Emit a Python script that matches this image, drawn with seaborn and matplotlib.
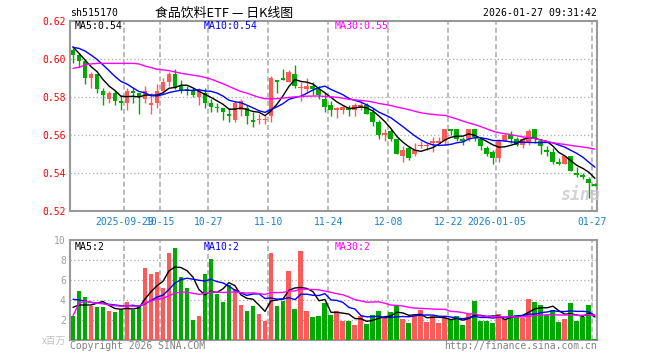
import matplotlib
matplotlib.use('Agg')
import matplotlib.pyplot as plt
import seaborn as sns
import numpy as np
import pandas as pd

code = 'sh515170'
title = '食品饮料ETF — 日K线图'
stamp = '2026-01-27 09:31:42'

# daily candles, 2025-09-16 .. 2026-01-27
opens = [0.605, 0.602, 0.599, 0.590, 0.592, 0.583, 0.579, 0.582, 0.578, 0.577,
         0.583, 0.582, 0.579, 0.576, 0.577, 0.583, 0.588, 0.592, 0.586, 0.584,
         0.583, 0.580, 0.582, 0.577, 0.575, 0.574, 0.571, 0.568, 0.573, 0.574,
         0.568, 0.568, 0.568, 0.570, 0.589, 0.590, 0.588, 0.592, 0.585, 0.584,
         0.586, 0.584, 0.579, 0.576, 0.573, 0.573, 0.574, 0.573, 0.574, 0.576,
         0.572, 0.567, 0.560, 0.562, 0.558, 0.549, 0.553, 0.550, 0.554, 0.554,
         0.556, 0.556, 0.557, 0.563, 0.563, 0.558, 0.558, 0.563, 0.558, 0.553,
         0.551, 0.548, 0.557, 0.560, 0.558, 0.555, 0.556, 0.563, 0.557, 0.552,
         0.551, 0.546, 0.545, 0.549, 0.540, 0.539, 0.537, 0.534]
highs = [0.606, 0.603, 0.600, 0.593, 0.592, 0.585, 0.583, 0.583, 0.581, 0.585,
         0.585, 0.582, 0.586, 0.582, 0.587, 0.590, 0.593, 0.595, 0.589, 0.586,
         0.585, 0.585, 0.585, 0.579, 0.577, 0.574, 0.574, 0.578, 0.579, 0.576,
         0.572, 0.571, 0.570, 0.591, 0.589, 0.595, 0.594, 0.597, 0.588, 0.590,
         0.588, 0.586, 0.582, 0.578, 0.575, 0.576, 0.576, 0.577, 0.578, 0.577,
         0.574, 0.568, 0.563, 0.563, 0.558, 0.554, 0.554, 0.556, 0.557, 0.556,
         0.559, 0.559, 0.563, 0.563, 0.563, 0.559, 0.563, 0.563, 0.559, 0.554,
         0.552, 0.558, 0.561, 0.562, 0.559, 0.559, 0.563, 0.563, 0.558, 0.554,
         0.553, 0.548, 0.549, 0.549, 0.543, 0.540, 0.538, 0.535]
lows = [0.598, 0.596, 0.587, 0.585, 0.582, 0.576, 0.577, 0.576, 0.573, 0.573,
        0.577, 0.571, 0.577, 0.571, 0.574, 0.582, 0.586, 0.584, 0.582, 0.581,
        0.580, 0.576, 0.574, 0.572, 0.572, 0.568, 0.567, 0.567, 0.570, 0.566,
        0.564, 0.566, 0.566, 0.567, 0.582, 0.589, 0.588, 0.585, 0.578, 0.582,
        0.581, 0.579, 0.572, 0.570, 0.569, 0.571, 0.570, 0.570, 0.573, 0.571,
        0.565, 0.558, 0.557, 0.557, 0.550, 0.546, 0.547, 0.549, 0.553, 0.552,
        0.551, 0.556, 0.555, 0.560, 0.557, 0.555, 0.557, 0.557, 0.552, 0.549,
        0.545, 0.546, 0.557, 0.556, 0.554, 0.553, 0.555, 0.556, 0.550, 0.549,
        0.545, 0.544, 0.545, 0.541, 0.538, 0.537, 0.527, 0.533]
closes = [0.602, 0.599, 0.590, 0.592, 0.584, 0.581, 0.582, 0.578, 0.577, 0.583,
          0.582, 0.580, 0.583, 0.577, 0.583, 0.588, 0.592, 0.585, 0.583, 0.583,
          0.581, 0.583, 0.577, 0.575, 0.574, 0.572, 0.570, 0.577, 0.578, 0.570,
          0.567, 0.568, 0.568, 0.590, 0.588, 0.589, 0.593, 0.586, 0.585, 0.586,
          0.584, 0.581, 0.575, 0.573, 0.574, 0.575, 0.573, 0.576, 0.576, 0.571,
          0.567, 0.560, 0.561, 0.558, 0.550, 0.552, 0.548, 0.552, 0.555, 0.555,
          0.557, 0.557, 0.563, 0.562, 0.558, 0.557, 0.563, 0.559, 0.554, 0.550,
          0.548, 0.557, 0.560, 0.558, 0.555, 0.558, 0.562, 0.558, 0.554, 0.551,
          0.546, 0.545, 0.549, 0.541, 0.539, 0.538, 0.535, 0.533]
# volume, x 1,000,000
volumes = [2.43, 4.9, 4.33, 3.4, 3.33, 3.33, 2.9, 2.8, 3.0, 3.77,
           3.0, 3.5, 7.23, 6.6, 6.8, 5.2, 8.7, 9.23, 6.3, 5.23,
           2.0, 2.43, 6.6, 8.13, 4.6, 3.83, 5.5, 5.1, 3.5, 2.9,
           3.4, 2.6, 1.93, 8.7, 3.4, 3.9, 6.93, 3.1, 8.93, 2.9,
           2.3, 2.4, 3.73, 2.5, 2.9, 1.9, 1.9, 1.5, 2.4, 1.6,
           2.5, 2.9, 2.23, 2.8, 3.5, 2.1, 1.7, 2.5, 3.0, 1.8,
           2.4, 1.7, 2.2, 2.1, 2.4, 1.5, 2.6, 3.9, 1.9, 1.9,
           1.7, 2.6, 2.1, 3.0, 2.5, 2.2, 4.1, 3.8, 3.5, 2.5,
           3.0, 1.8, 2.1, 3.7, 1.9, 2.3, 3.5, 0.1]

# MA values before the rolling window is full (need earlier history)
ma5_head = [0.6064, 0.603, 0.5995, 0.596]
ma10_head = [0.6061, 0.6056, 0.6042, 0.6021, 0.5998, 0.5969, 0.5939, 0.5908, 0.5882]
ma30_head = [0.5951, 0.5956, 0.5969, 0.5974, 0.5977, 0.5977, 0.5977, 0.5977, 0.5977, 0.5977,
             0.5977, 0.5974, 0.5963, 0.5955, 0.5946, 0.5943, 0.5939, 0.5932, 0.5925, 0.592,
             0.5915, 0.591, 0.5903, 0.5894, 0.5882, 0.587, 0.5856, 0.5842, 0.5829]
vma5_head = [3.27, 3.5, 3.5, 3.5]
vma10_head = [4.07, 4.0, 3.9, 3.77, 3.67, 3.67, 3.57, 3.5, 3.43]

tick_idx = [9, 15, 23, 33, 43, 53, 63, 71, 87]
tick_labels = ['2025-09-29', '10-15', '10-27', '11-10', '11-24', '12-08', '12-22', '2026-01-05', '01-27']

RED = '#ff5a5a'
GREEN = '#00a800'
GRID = '#a8a8a8'


def moving_avg(values, n, head=None):
    s = pd.Series(values, dtype=float)
    if head is None:
        return s.rolling(n, min_periods=1).mean()
    s = s.rolling(n).mean()
    s.iloc[:len(head)] = head
    return s


df = pd.DataFrame({'open': opens, 'high': highs, 'low': lows, 'close': closes, 'vol': volumes})
df['idx'] = np.arange(len(df))
df['dir'] = np.where(df.close >= df.open, 'up', 'down')
df['ma5'] = moving_avg(closes, 5, ma5_head)
df['ma10'] = moving_avg(closes, 10, ma10_head)
df['ma30'] = moving_avg(closes, 30, ma30_head)
df['vma5'] = moving_avg(volumes, 5, vma5_head)
df['vma10'] = moving_avg(volumes, 10, vma10_head)
df['vma30'] = moving_avg(volumes, 30)
colors = df.dir.map({'up': RED, 'down': GREEN})

sns.set_style('white')
plt.rcParams['font.family'] = ['DejaVu Sans Mono', 'Noto Sans CJK SC']

W, H = 660, 360
fig = plt.figure(figsize=(6.6, 3.6), dpi=100)
ax1 = fig.add_axes([70 / W, 1 - 211 / H, 527 / W, 190 / H])
ax2 = fig.add_axes([70 / W, 1 - 340 / H, 527 / W, 100 / H])

# candles
body_lo = df[['open', 'close']].min(axis=1)
body_h = (df.close - df.open).abs().clip(lower=0.0004)
ax1.vlines(df.idx, df.low, df.high, colors=colors, lw=1, zorder=3)
ax1.bar(df.idx, body_h, bottom=body_lo, width=0.82, color=colors, lw=0, zorder=3)
sns.lineplot(data=df, x='idx', y='ma5', color='black', lw=1, ax=ax1, zorder=4)
sns.lineplot(data=df, x='idx', y='ma10', color='#0000ff', lw=1, ax=ax1, zorder=4)
sns.lineplot(data=df, x='idx', y='ma30', color='#ff00ff', lw=1, ax=ax1, zorder=4)

# volume
sns.barplot(data=df, x='idx', y='vol', hue='dir', palette={'up': RED, 'down': GREEN},
            saturation=1, width=0.82, dodge=False, legend=False, lw=0, ax=ax2, zorder=3)
sns.lineplot(data=df, x='idx', y='vma5', color='black', lw=1, ax=ax2, zorder=4)
sns.lineplot(data=df, x='idx', y='vma10', color='#0000ff', lw=1, ax=ax2, zorder=4)
sns.lineplot(data=df, x='idx', y='vma30', color='#ff00ff', lw=1, ax=ax2, zorder=4)

for ax in (ax1, ax2):
    ax.set_xlim(-0.5, 87.35)
    ax.set_xlabel('')
    ax.set_ylabel('')
    for sp in ax.spines.values():
        sp.set_color('#999999')
        sp.set_linewidth(1.5)
    ax.tick_params(length=0)
    for t in tick_idx:
        ax.axvline(t - 0.42, color=GRID, lw=1.1, dashes=(3.3, 2), zorder=1)

ax1.set_ylim(0.52, 0.62)
pticks = [0.52, 0.54, 0.56, 0.58, 0.60, 0.62]
ax1.set_yticks(pticks)
ax1.set_yticklabels([f'{v:.2f}' for v in pticks], color='#ff0000', fontsize=7)
for v in pticks[1:-1]:
    ax1.axhline(v, color=GRID, lw=0.9, ls=(0, (1, 2)), zorder=1)
ax1.set_xticks([t - 0.42 for t in tick_idx])
ax1.set_xticklabels(tick_labels, color='#1a7fd1', fontsize=7)
ax1.tick_params(axis='y', pad=3)
ax1.tick_params(axis='x', pad=4)

ax2.set_ylim(0, 10)
vticks = [2, 4, 6, 8, 10]
ax2.set_yticks(vticks)
ax2.set_yticklabels([str(v) for v in vticks], color='#a0a0a0', fontsize=7)
for v in vticks[:-1]:
    ax2.axhline(v, color=GRID, lw=0.9, ls=(0, (1, 2)), zorder=1)
ax2.set_xticks([])
ax2.tick_params(axis='y', pad=3)


def ftext(x, y, s, **kw):
    fig.text(x / W, 1 - y / H, s, va='center', **kw)


ftext(70, 13, code, fontsize=7.1, color='black')
ftext(224, 13, title, fontsize=9.3, color='black', ha='center', family=['Noto Sans CJK SC', 'DejaVu Sans'])
ftext(597, 13, stamp, fontsize=7.1, color='black', ha='right')

ftext(75, 26, f'MA5:{df.ma5.iloc[-1]:.2f}', fontsize=7.1, color='black')
ftext(204, 26, f'MA10:{df.ma10.iloc[-1]:.2f}', fontsize=7.1, color='#0000ff')
ftext(335, 26, f'MA30:{df.ma30.iloc[-1]:.2f}', fontsize=7.1, color='#ff00ff')
ftext(75, 247, f'MA5:{int(df.vma5.iloc[-1])}', fontsize=7.1, color='black')
ftext(204, 247, f'MA10:{int(df.vma10.iloc[-1])}', fontsize=7.1, color='#0000ff')
ftext(335, 247, f'MA30:{int(df.vma30.iloc[-1])}', fontsize=7.1, color='#ff00ff')

ftext(66, 341, 'x百万', fontsize=7, color='#c0c0c0', ha='right', family=['Noto Sans CJK SC', 'DejaVu Sans'])
ftext(70, 346, 'Copyright 2026 SINA.COM', fontsize=7, color='#808080')
ftext(597, 346, 'http://finance.sina.com.cn', fontsize=7, color='#808080', ha='right')
ftext(580, 195, 'sina', fontsize=12, color='#c8c8c8', ha='center', style='italic', weight='bold', alpha=0.8)

fig.savefig('out.png', dpi=100)
